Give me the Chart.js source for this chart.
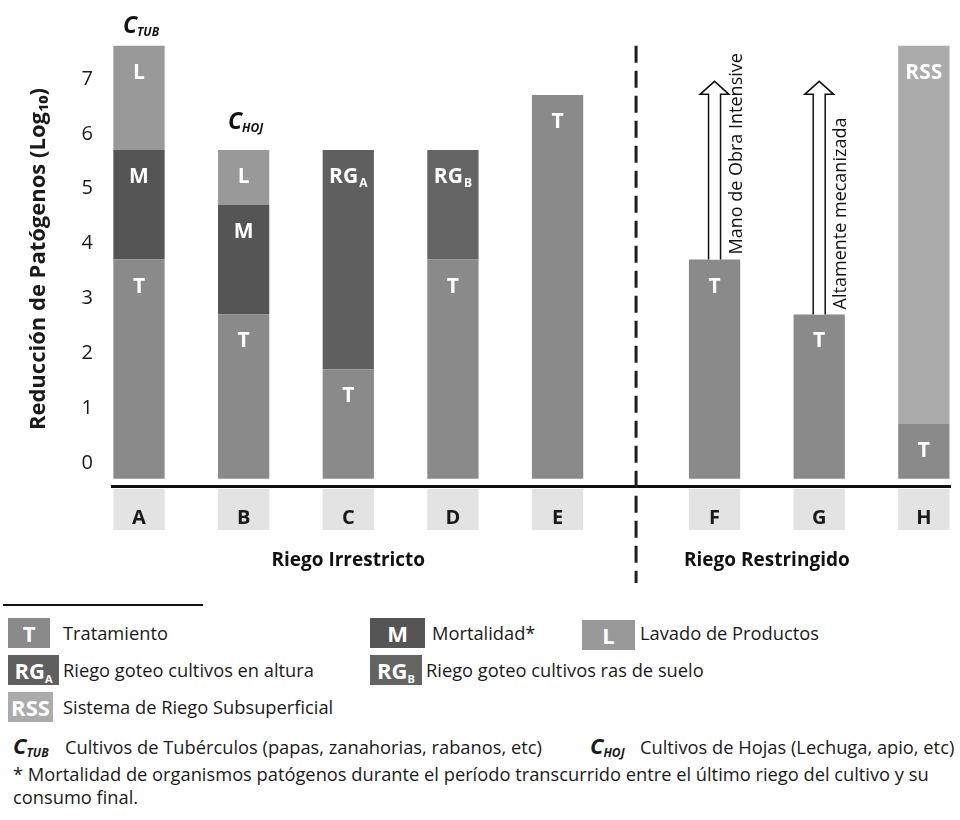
<!DOCTYPE html>
<html lang="es">
<head>
<meta charset="utf-8">
<title>Reducción de patógenos</title>
<script src="https://cdn.jsdelivr.net/npm/chart.js@4"></script>
<style>
  body { margin: 0; background: #fff; font-family: 'Open Sans', sans-serif; color: #1a1a1a; }
  #lienzo { position: absolute; left: 0; top: 0; }
  .regla { position: absolute; left: 3px; top: 604px; width: 200px; height: 2px; background: #111; }
  .sw { position: absolute; color: #fff; font-weight: bold; font-size: 22px; text-align: center; line-height: 30px; height: 30px; }
  .sw sub { font-size: 11px; vertical-align: -4px; }
  .tx { position: absolute; font-size: 18.3px; white-space: nowrap; line-height: 22px; }
  .c { font-weight: bold; font-style: italic; font-size: 22px; }
  .c sub { font-size: 12px; vertical-align: -3px; }
</style>
</head>
<body>
<canvas id="lienzo" width="960" height="600"></canvas>

<div class="regla"></div>
<div class="sw" id="swT" style="left:8px; top:618px; width:42px;">T</div>
<div class="tx" style="left:63px; top:622px;">Tratamiento</div>
<div class="sw" id="swM" style="left:370px; top:618px; width:55px;">M</div>
<div class="tx" style="left:432px; top:622px;">Mortalidad*</div>
<div class="sw" id="swL" style="left:582px; top:620px; width:53px;">L</div>
<div class="tx" style="left:640px; top:622px;">Lavado de Productos</div>
<div class="sw" id="swRGA" style="left:8px; top:655px; width:51px;">RG<sub>A</sub></div>
<div class="tx" style="left:63px; top:659px;">Riego goteo cultivos en altura</div>
<div class="sw" id="swRGB" style="left:370px; top:655px; width:52px;">RG<sub>B</sub></div>
<div class="tx" style="left:426px; top:659px;">Riego goteo cultivos ras de suelo</div>
<div class="sw" id="swRSS" style="left:8px; top:692px; width:45px;">RSS</div>
<div class="tx" style="left:63px; top:696px;">Sistema de Riego Subsuperficial</div>
<div class="tx" style="left:13px; top:734px;"><span class="c">C<sub>TUB</sub></span></div>
<div class="tx" style="left:65px; top:736px;">Cultivos de Tubérculos (papas, zanahorias, rabanos, etc)</div>
<div class="tx" style="left:590px; top:734px;"><span class="c">C<sub>HOJ</sub></span></div>
<div class="tx" style="left:640px; top:736px;">Cultivos de Hojas (Lechuga, apio, etc)</div>
<div class="tx" style="left:13px; top:763px;">* Mortalidad de organismos patógenos durante el período transcurrido entre el último riego del cultivo y su</div>
<div class="tx" style="left:13px; top:786px;">consumo final.</div>

<script>
// categorías y grupos
const categorias = ['A', 'B', 'C', 'D', 'E', 'F', 'G', 'H'];
const grupoIrrestricto = ['A', 'B', 'C', 'D', 'E'];
const grupoRestringido = ['F', 'G', 'H'];

// reducción (log10) de cada componente, por categoría
const tratamiento = [4, 3, 2, 4, 7, 4, 3, 1];
const mortalidad  = [2, 2, null, null, null, null, null, null];
const lavado      = [1.9, 1, null, null, null, null, null, null];
const goteoAltura = [null, null, 4, null, null, null, null, null];
const goteoSuelo  = [null, null, null, 2, null, null, null, null];
const subsuperficial = [null, null, null, null, null, null, null, 6.9];

// flechas (hasta dónde llegan) y sus textos
const flechaTope  = [null, null, null, null, null, 7.25, 7.25, null];
const flechaTexto = [null, null, null, null, null, 'Mano de Obra Intensive', 'Altamente mecanizada', null];

const yTicks = [0, 1, 2, 3, 4, 5, 6, 7];

const colT = '#8a8a8a';
const colM = '#555555';
const colL = '#999999';
const colRGA = '#5f5f5f';
const colRGB = '#646464';
const colRSS = '#ababab';

// espacios entre barras: un hueco entre cada barra, dos entre los grupos
const etiquetasSlots = [];
grupoIrrestricto.forEach((c, i) => { if (i > 0) etiquetasSlots.push(''); etiquetasSlots.push(c); });
etiquetasSlots.push('', '');
grupoRestringido.forEach((c, i) => { if (i > 0) etiquetasSlots.push(''); etiquetasSlots.push(c); });

function aSlots(arr) {
  return etiquetasSlots.map(l => l === '' ? null : arr[categorias.indexOf(l)]);
}
function slotDe(cat) { return etiquetasSlots.indexOf(cat); }

const FUENTE = "'Open Sans', sans-serif";

function textoConSub(ctx, x, y, main, sub, size) {
  ctx.font = `bold ${size}px ${FUENTE}`;
  const w1 = ctx.measureText(main).width;
  let w2 = 0;
  if (sub) {
    ctx.font = `bold ${Math.round(size * 0.55)}px ${FUENTE}`;
    w2 = ctx.measureText(sub).width + 1;
  }
  const x0 = x - (w1 + w2) / 2;
  ctx.textAlign = 'left';
  ctx.textBaseline = 'middle';
  ctx.font = `bold ${size}px ${FUENTE}`;
  ctx.fillText(main, x0, y);
  if (sub) {
    ctx.font = `bold ${Math.round(size * 0.55)}px ${FUENTE}`;
    ctx.fillText(sub, x0 + w1 + 1, y + size * 0.3);
  }
}

const anotaciones = [
  { cat: 'A', sub: 'TUB', arriba: 19 },
  { cat: 'B', sub: 'HOJ', arriba: 27 }
];
const gruposEtiquetas = [
  { texto: 'Riego Irrestricto', desde: 'A', hasta: 'E' },
  { texto: 'Riego Restringido', desde: 'F', hasta: 'G' }
];

function topeBarra(chart, slot) {
  let top = Infinity;
  chart.data.datasets.forEach((ds, d) => {
    if (ds.data[slot] == null) return;
    const el = chart.getDatasetMeta(d).data[slot];
    top = Math.min(top, el.y, el.base);
  });
  return top;
}

const pluginAnotaciones = {
  id: 'anotaciones',
  beforeDraw(chart) {
    // fondos claros de las etiquetas del eje x
    const { ctx, chartArea } = chart;
    const meta = chart.getDatasetMeta(0);
    ctx.save();
    ctx.fillStyle = '#e3e3e3';
    meta.data.forEach((bar, i) => {
      if (etiquetasSlots[i] === '') return;
      ctx.fillRect(bar.x - bar.width / 2, chartArea.bottom + 3, bar.width, 41);
    });
    ctx.restore();
  },
  afterDatasetsDraw(chart) {
    // letras dentro de cada segmento
    const ctx = chart.ctx;
    ctx.save();
    ctx.fillStyle = '#ffffff';
    chart.data.datasets.forEach((ds, d) => {
      const meta = chart.getDatasetMeta(d);
      meta.data.forEach((el, i) => {
        if (ds.data[i] == null) return;
        const top = Math.min(el.y, el.base);
        textoConSub(ctx, el.x, top + 27, ds.letra, ds.sub, 21);
      });
    });
    ctx.restore();
  },
  afterDraw(chart) {
    const { ctx, chartArea } = chart;
    const ys = chart.scales.y;
    const metaT = chart.getDatasetMeta(0);
    ctx.save();

    // línea discontinua entre grupos
    const xE = metaT.data[slotDe('E')].x, xF = metaT.data[slotDe('F')].x;
    const xd = (xE + xF) / 2;
    ctx.strokeStyle = '#1e1e1e';
    ctx.lineWidth = 3;
    ctx.setLineDash([17, 8]);
    ctx.beginPath();
    ctx.moveTo(xd, ys.getPixelForValue(7.9));
    ctx.lineTo(xd, chart.height - 17);
    ctx.stroke();
    ctx.setLineDash([]);

    // flechas
    flechaTope.forEach((tope, c) => {
      if (tope == null) return;
      const slot = slotDe(categorias[c]);
      const x = metaT.data[slot].x;
      const base = topeBarra(chart, slot);
      const punta = ys.getPixelForValue(tope);
      const cabeza = punta + 13;
      ctx.beginPath();
      ctx.moveTo(x - 6, base);
      ctx.lineTo(x - 6, cabeza);
      ctx.lineTo(x - 14.5, cabeza);
      ctx.lineTo(x, punta);
      ctx.lineTo(x + 14.5, cabeza);
      ctx.lineTo(x + 6, cabeza);
      ctx.lineTo(x + 6, base);
      ctx.fillStyle = '#ffffff';
      ctx.fill();
      ctx.strokeStyle = '#111';
      ctx.lineWidth = 1.5;
      ctx.stroke();

      ctx.save();
      ctx.translate(x + 22, base - 5);
      ctx.rotate(-Math.PI / 2);
      ctx.fillStyle = '#111';
      ctx.font = `18px ${FUENTE}`;
      ctx.textAlign = 'left';
      ctx.textBaseline = 'middle';
      ctx.fillText(flechaTexto[c], 0, 0);
      ctx.restore();
    });

    // C_TUB, C_HOJ
    ctx.fillStyle = '#111';
    anotaciones.forEach(a => {
      const slot = slotDe(a.cat);
      const x = metaT.data[slot].x + 2;
      const y = topeBarra(chart, slot) - a.arriba;
      ctx.font = `italic bold 23px ${FUENTE}`;
      const w1 = ctx.measureText('C').width;
      ctx.font = `italic bold 12px ${FUENTE}`;
      const w2 = ctx.measureText(a.sub).width;
      const x0 = x - (w1 + w2) / 2;
      ctx.textAlign = 'left';
      ctx.textBaseline = 'middle';
      ctx.font = `italic bold 23px ${FUENTE}`;
      ctx.fillText('C', x0, y);
      ctx.font = `italic bold 12px ${FUENTE}`;
      ctx.fillText(a.sub, x0 + w1, y + 6);
    });

    // etiquetas de grupo
    ctx.font = `bold 19px ${FUENTE}`;
    ctx.textAlign = 'center';
    ctx.textBaseline = 'middle';
    gruposEtiquetas.forEach(g => {
      const x = (metaT.data[slotDe(g.desde)].x + metaT.data[slotDe(g.hasta)].x) / 2;
      ctx.fillText(g.texto, x, chartArea.bottom + 75);
    });

    ctx.restore();
  }
};

function dataset(letra, sub, datos, color) {
  return {
    label: letra + sub,
    letra: letra,
    sub: sub,
    data: aSlots(datos),
    backgroundColor: color,
    borderWidth: 0,
    barPercentage: 0.98,
    categoryPercentage: 1
  };
}

// colores de la leyenda
document.getElementById('swT').style.background = colT;
document.getElementById('swM').style.background = colM;
document.getElementById('swL').style.background = colL;
document.getElementById('swRGA').style.background = colRGA;
document.getElementById('swRGB').style.background = colRGB;
document.getElementById('swRSS').style.background = colRSS;

const grafico = new Chart(document.getElementById('lienzo'), {
  type: 'bar',
  data: {
    labels: etiquetasSlots,
    datasets: [
      dataset('T', '', tratamiento, colT),
      dataset('M', '', mortalidad, colM),
      dataset('L', '', lavado, colL),
      dataset('RG', 'A', goteoAltura, colRGA),
      dataset('RG', 'B', goteoSuelo, colRGB),
      dataset('RSS', '', subsuperficial, colRSS)
    ]
  },
  options: {
    responsive: false,
    animation: false,
    layout: { padding: { top: 0, right: 10, bottom: 50, left: 0 } },
    plugins: {
      legend: { display: false },
      tooltip: { enabled: false }
    },
    scales: {
      x: {
        stacked: true,
        grid: { display: false, drawTicks: false },
        border: { color: '#111', width: 3 },
        ticks: {
          padding: 20,
          autoSkip: false,
          maxRotation: 0,
          color: '#1a1a1a',
          font: { family: FUENTE, size: 20, weight: 'bold' }
        }
      },
      y: {
        stacked: true,
        min: -0.13,
        max: 8.15,
        grid: { display: false, drawTicks: false },
        border: { display: false },
        afterBuildTicks: axis => { axis.ticks = yTicks.map(v => ({ value: v })); },
        ticks: {
          padding: 20,
          labelOffset: -16,
          color: '#1a1a1a',
          font: { family: FUENTE, size: 20 }
        },
        title: {
          display: true,
          text: 'Reducción de Patógenos (Log₁₀)',
          color: '#1a1a1a',
          font: { family: FUENTE, size: 22, weight: 'bold' },
          padding: { top: 26, bottom: 9 }
        }
      }
    }
  },
  plugins: [pluginAnotaciones]
});
</script>
</body>
</html>
